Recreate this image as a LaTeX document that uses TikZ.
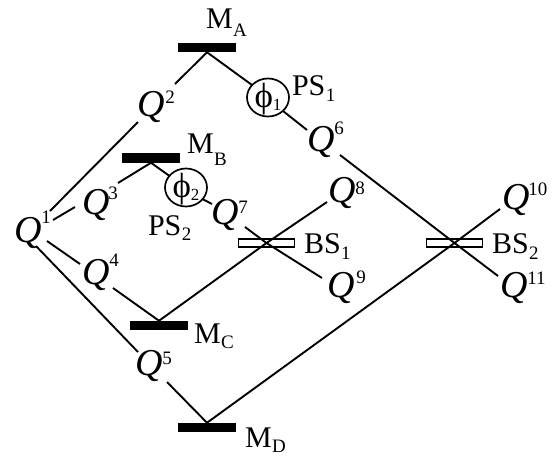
\documentclass[tikz,border=0pt]{standalone}
\usepackage{fontspec}
\setmainfont{Liberation Serif}
\newcommand{\QQ}[3]{\fontsize{38}{38}\selectfont\textit{Q}\kern#3pt\raisebox{#2pt}{\fontsize{19}{19}\selectfont #1}}
\newcommand{\LL}[3]{\fontsize{30}{30}\selectfont #1\kern0.5pt\raisebox{-#3pt}{\fontsize{19}{19}\selectfont #2}}
\newcommand{\PH}[1]{\fontsize{35}{35}\selectfont ϕ\raisebox{-3pt}{\fontsize{17}{17}\selectfont #1}}
\tikzset{
 qn/.style={anchor=base west,inner sep=0pt,outer sep=0pt},
 lab/.style={anchor=base west,inner sep=0pt,outer sep=0pt},
 mirror/.style={fill=black,draw=none,minimum width=58pt,minimum height=9.5pt,inner sep=0pt,outer sep=0pt},
 bs/.style={fill=white,draw=black,line width=1.7pt,minimum width=56pt,minimum height=7.5pt,inner sep=0pt,outer sep=0pt},
 ps/.style={draw=black,line width=1.7pt,ellipse,minimum width=42pt,minimum height=38pt,inner sep=0pt,outer sep=0pt},
 ln/.style={line width=1.9pt,black},
}
\usetikzlibrary{shapes.geometric}
\begin{document}
\begin{tikzpicture}[x=1pt,y=-1pt]
\useasboundingbox (0,0) rectangle (554,464);
\node[bs] (bs1) at (266.5,243) {};
\node[bs] (bs2) at (454.5,243) {};
\node[mirror] (ma) at (207,47.5) {};
\node[mirror] (mb) at (151,158) {};
\node[mirror] (mc) at (159,325.5) {};
\node[mirror] (md) at (207,427.5) {};
\node[ps] (ps1) at (268,97.5) {};
\node[ps] (ps2) at (186,187.5) {};
\node[inner sep=0pt,anchor=base] (ph1) at (268,107) {\PH{1}};
\node[inner sep=0pt,anchor=base] (ph2) at (186,197) {\PH{2}};
\node[qn] (q1) at (14,242) {\QQ{1}{19}{0}};
\node[qn] (q2) at (137,116) {\QQ{2}{13}{1}};
\node[qn] (q3) at (82,214) {\QQ{3}{15}{-1}};
\node[qn] (q4) at (82,284) {\QQ{4}{18}{0}};
\node[qn] (q5) at (135,375) {\QQ{5}{11}{0}};
\node[qn] (q6) at (307,151) {\QQ{6}{17}{0}};
\node[qn] (q7) at (211,224) {\QQ{7}{11}{0}};
\node[qn] (q8) at (328,202) {\QQ{8}{8}{0}};
\node[qn] (q9) at (327,297) {\QQ{9}{14}{2}};
\node[qn] (q10) at (502,209) {\QQ{10}{14}{-1}};
\node[qn] (q11) at (500,297) {\QQ{11}{13}{0}};
\node[lab] (lma) at (206,28) {\LL{M}{A}{8}};
\node[lab] (lmb) at (187,153) {\LL{M}{B}{12}};
\node[lab] (lmc) at (194,343) {\LL{M}{C}{5}};
\node[lab] (lmd) at (245,447) {\LL{M}{D}{5}};
\node[lab] (lb1) at (304,253) {\LL{BS}{1}{6}};
\node[lab] (lb2) at (492,253) {\LL{BS}{2}{6}};
\node[lab] (lp1) at (292,95) {\LL{PS}{1}{6}};
\node[lab] (lp2) at (148,235) {\LL{PS}{2}{5}};
\begin{scope}[ln]
\draw ([shift={(36,-31)}]q1.base west) -- ([shift={(1,6)}]q2.base west);
\draw ([shift={(38,-32)}]q2.base west) -- (ma.south);
\draw (ma.south) -- (ps1.142);
\draw (ps1.318) -- ([shift={(0,-21)}]q6.base west);
\draw ([shift={(33,4)}]q6.base west) -- (bs2.center);
\draw (bs2.center) -- ([shift={(-2,-21)}]q11.base west);
\draw ([shift={(39,-22)}]q1.base west) -- ([shift={(-7,-7)}]q3.base west);
\draw ([shift={(36,-31)}]q3.base west) -- (mb.south);
\draw (mb.south) -- (ps2.145);
\draw (ps2.325) -- ([shift={(1,-20)}]q7.base west);
\draw ([shift={(34,3)}]q7.base west) -- (bs1.center);
\draw (bs1.center) -- ([shift={(-5,-19)}]q9.base west);
\draw ([shift={(33,-1)}]q1.base west) -- ([shift={(-2,-20)}]q4.base west);
\draw ([shift={(31,4)}]q4.base west) -- (mc.north);
\draw (mc.north) -- (bs1.center);
\draw (bs1.center) -- ([shift={(-1,0)}]q8.base west);
\draw ([shift={(22,4)}]q1.base west) -- ([shift={(3,-23)}]q5.base west);
\draw ([shift={(32,7)}]q5.base west) -- (md.north);
\draw (md.north) -- (bs2.center);
\draw (bs2.center) -- ([shift={(-2,0)}]q10.base west);
\end{scope}
\end{tikzpicture}
\end{document}
